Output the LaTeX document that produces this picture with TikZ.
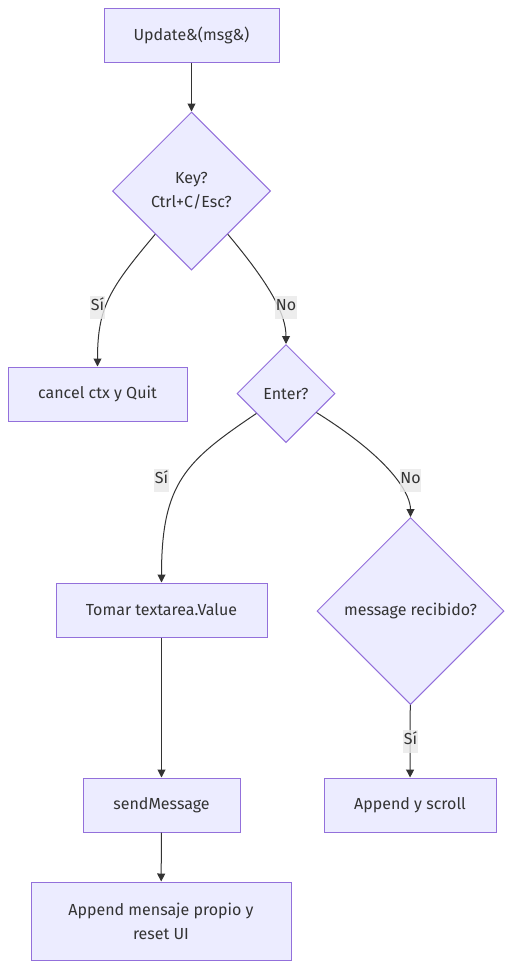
\documentclass[tikz,border=0pt]{standalone}
\usepackage{fontspec}
\setmainfont{Fira Sans}
\usetikzlibrary{shapes.geometric,arrows.meta}
\definecolor{boxfill}{HTML}{ECECFF}
\definecolor{boxline}{HTML}{9370DB}
\definecolor{ink}{HTML}{333333}
\definecolor{lblfill}{HTML}{E8E8E8}

\begin{document}
\begin{tikzpicture}[x=1pt,y=-1pt,
  every node/.style={font=\fontsize{16}{24}\selectfont,text=ink},
  box/.style={rectangle,draw=boxline,fill=boxfill,line width=1pt,minimum height=54pt,inner sep=0pt},
  choice/.style={diamond,aspect=1,draw=boxline,fill=boxfill,line width=1pt,inner sep=0pt},
  flow/.style={draw=ink,line width=1pt,-{Triangle[length=8pt,width=8pt]}},
  lbl/.style={fill=lblfill,fill opacity=0.8,text opacity=1,inner xsep=0.5pt,inner ysep=1pt,text height=14pt,text depth=7pt}]

\useasboundingbox (0,0) rectangle (512,969);

\coordinate (cUpd)    at (191.5,35);
\coordinate (cKey)    at (191.5,191);
\coordinate (cQuit)   at (97.5,394);
\coordinate (cEnter)  at (286,393.5);
\coordinate (cTomar)  at (161.5,610);
\coordinate (cRecv)   at (410.5,611);
\coordinate (cSend)   at (161.5,805);
\coordinate (cScroll) at (410,805);
\coordinate (cOwn)    at (161,921);

\node[box,minimum width=175pt]                      (Upd)    at (cUpd)    {Update\&(msg\&)};
\node[choice,minimum width=158pt,minimum height=158pt,align=center] (Key) at (cKey) {Key?\\Ctrl+C/Esc?};
\node[box,minimum width=179pt]                      (Quit)   at (cQuit)   {cancel ctx y Quit};
\node[choice,minimum width=98pt,minimum height=98pt] (Enter)  at (cEnter)  {Enter?};
\node[box,minimum width=211pt]                      (Tomar)  at (cTomar)  {Tomar textarea.Value};
\node[choice,minimum width=187pt,minimum height=187pt] (Recv) at (cRecv)   {message recibido?};
\node[box,minimum width=157pt]                      (Send)   at (cSend)   {sendMessage};
\node[box,minimum width=172pt]                      (Scroll) at (cScroll) {Append y scroll};
\node[box,minimum width=260pt,minimum height=78pt,align=center] (Own) at (cOwn) {Append mensaje propio y\\reset UI};

\draw[flow] (Upd) -- (Key);
\draw[flow] (Key) to[out=230,in=90,out distance=70pt,in distance=60pt] (Quit);
\draw[flow] (Key) to[out=-50,in=90,out distance=65pt,in distance=30pt] (Enter);
\draw[flow] (Enter) to[out=214,in=90,out distance=85pt,in distance=100pt] (Tomar);
\draw[flow] (Enter) to[out=-32,in=90,out distance=95pt,in distance=20pt] (Recv);
\draw[flow] (Tomar) -- (Send);
\draw[flow] (Recv) -- (Scroll);
\draw[flow] (Send) -- (Own);

% edge labels
\node[lbl] (lQuit)   at (97.5,307)  {Sí};
\node[lbl] (lEnter)  at (286,307)   {No};
\node[lbl] (lTomar)  at (161.5,480) {Sí};
\node[lbl] (lRecv)   at (410.5,480) {No};
\node[lbl] (lScroll) at (410.5,741) {Sí};

\end{tikzpicture}
\end{document}
